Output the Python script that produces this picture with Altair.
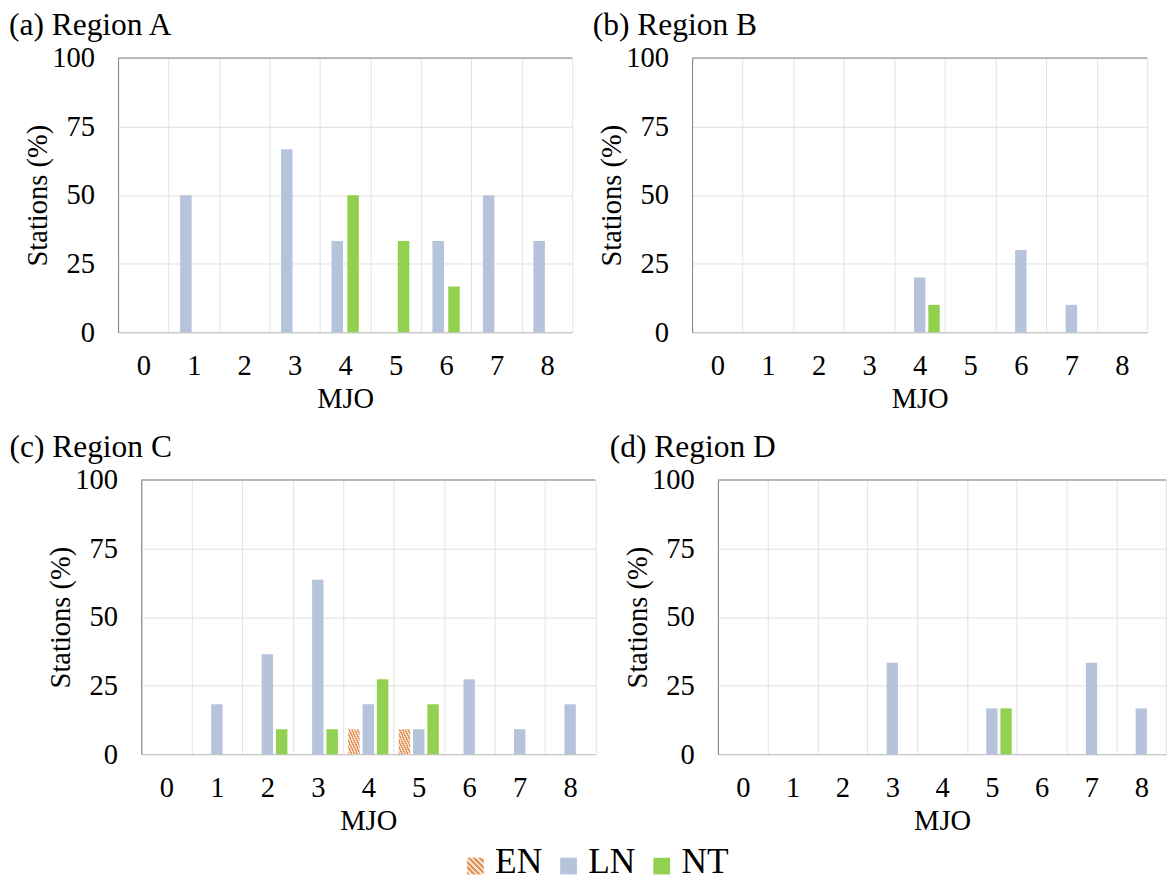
import altair as alt
import pandas as pd

FONT = "Liberation Serif"

# ---- data -------------------------------------------------------------
mjo = ["0", "1", "2", "3", "4", "5", "6", "7", "8"]
series = ["EN", "LN", "NT"]

a_LN = [0, 50, 0, 66.7, 33.3, 0, 33.3, 50, 33.3]
a_NT = [0, 0, 0, 0, 50, 33.3, 16.7, 0, 0]

b_EN = [0, 0, 0, 0, 0, 0, 0, 0, 0]
b_LN = [0, 0, 0, 0, 20, 0, 30, 10, 0]
b_NT = [0, 0, 0, 0, 10, 0, 0, 0, 0]

c_EN = [0, 0, 0, 0, 9.1, 9.1, 0, 0, 0]
c_LN = [0, 18.2, 36.4, 63.6, 18.2, 9.1, 27.3, 9.1, 18.2]
c_NT = [0, 0, 9.1, 9.1, 27.3, 18.2, 0, 0, 0]

d_EN = [0, 0, 0, 0, 0, 0, 0, 0, 0]
d_LN = [0, 0, 0, 33.3, 0, 16.7, 0, 33.3, 16.7]
d_NT = [0, 0, 0, 0, 0, 16.7, 0, 0, 0]

titles = ["(a) Region A", "(b) Region B", "(c) Region C", "(d) Region D"]
y_ticks = [0, 25, 50, 75, 100]


# ---- styles -----------------------------------------------------------
def stripes(c1, c2, n):
    stops = []
    for i in range(n):
        a, b, c = i / n, (i + 0.5) / n, (i + 1) / n
        stops += [
            alt.GradientStop(color=c1, offset=a),
            alt.GradientStop(color=c1, offset=b),
            alt.GradientStop(color=c2, offset=b),
            alt.GradientStop(color=c2, offset=c),
        ]
    return alt.LinearGradient(gradient="linear", stops=stops, x1=0, y1=1, x2=1, y2=0)


FILL = {
    "EN": stripes("#e0955a", "#f8e2cf", 8),
    "LN": "#b5c4db",
    "NT": "#92d050",
}
LEG_FILL = {
    "EN": stripes("#e0955a", "#f8e2cf", 6),
    "LN": "#b5c4db",
    "NT": "#92d050",
}

H = 279
TICK_FS = 29
AXT_FS = 29
TITLE_FS = 32
LEG_FS = 36


def panel(title, vals, off_domain, pad_in, pad_out, width, shift, title_x, title_y, sp_y):
    rows = []
    for s, v in vals.items():
        for m, val in zip(mjo, v):
            rows.append({"MJO": m, "Series": s, "Value": val})
    df = pd.DataFrame(rows)

    base = alt.Chart(df).encode(
        x=alt.X(
            "MJO:N",
            sort=mjo,
            scale=alt.Scale(domain=mjo, paddingInner=0, paddingOuter=0, range=[shift, shift + width]),
            axis=alt.Axis(
                title="MJO",
                grid=True,
                tickBand="extent",
                gridColor="#e2e2e2",
                gridWidth=1,
                ticks=False,
                tickSize=0,
                domainColor="#bfbfbf",
                labelAngle=0,
                labelFont=FONT,
                labelFontSize=TICK_FS,
                labelColor="black",
                labelPadding=34,
                labelBaseline="middle",
                titleFont=FONT,
                titleFontSize=AXT_FS,
                titleFontWeight="normal",
                titleColor="black",
                titleX=shift + width / 2,
                titleY=68,
                titleAlign="center",
                titleBaseline="middle",
            ),
        ),
        xOffset=alt.XOffset(
            "Series:N",
            sort=off_domain,
            scale=alt.Scale(domain=off_domain, paddingInner=pad_in, paddingOuter=pad_out),
        ),
        y=alt.Y(
            "Value:Q",
            scale=alt.Scale(domain=[0, 100]),
            axis=alt.Axis(
                title="Stations (%)",
                values=y_ticks,
                offset=-shift,
                grid=True,
                gridColor="#dedede",
                ticks=False,
                tickSize=0,
                domainColor="#7f7f7f",
                labelFont=FONT,
                labelFontSize=TICK_FS,
                labelColor="black",
                labelPadding=24,
                titleFont=FONT,
                titleFontSize=AXT_FS,
                titleFontWeight="normal",
                titleColor="black",
                titleX=-82,
                titleY=H / 2,
                titleAngle=-90,
                titleAlign="center",
                titleBaseline="middle",
            ),
        ),
    )

    layers = []
    for s in vals:
        layers.append(
            base.transform_filter((alt.datum.Series == s) & (alt.datum.Value > 0)).mark_bar(
                color=FILL[s], strokeWidth=0
            )
        )

    one = pd.DataFrame({"k": [0]})
    top = alt.Chart(one).mark_rule(color="#7f7f7f", strokeWidth=1).encode(
        y=alt.datum(100), x=alt.value(shift), x2=alt.value(shift + width)
    )
    ttl = alt.Chart(pd.DataFrame({"t": [title]})).mark_text(
        align="left", baseline="alphabetic", font=FONT, fontSize=TITLE_FS, color="black"
    ).encode(x=alt.value(shift + title_x), y=alt.value(title_y), text="t:N")
    out = [*layers, top, ttl]
    if sp_y is not None:
        # invisible spacer that sets the layout bounds of the panel
        out.append(
            alt.Chart(one).mark_rule(opacity=0, strokeOpacity=0).encode(
                x=alt.value(shift + 20), y=alt.value(sp_y), y2=alt.value(sp_y + 1)
            )
        )
    return (
        alt.layer(*out)
        .resolve_scale(xOffset="shared")
        .properties(width=shift + width, height=H)
    )


pA = panel(titles[0], {"LN": a_LN, "NT": a_NT}, ["LN", "NT"], 0.273, 0.73, 462, 0, -111, -23.3, -26)
pB = panel(titles[1], {"EN": b_EN, "LN": b_LN, "NT": b_NT}, series, 0.205, 0.36, 463, 0, -101, -23.3, -26)
pC = panel(titles[2], {"EN": c_EN, "LN": c_LN, "NT": c_NT}, series, 0.205, 0.36, 462, 23.5, -134, -23.5, -57.1)
pD = panel(titles[3], {"EN": d_EN, "LN": d_LN, "NT": d_NT}, series, 0.205, 0.36, 456, 26.3, -110, -23.5, -57.1)

grid = alt.concat(pA, pB, pC, pD, columns=2, spacing={"row": 9.2, "column": -3.1}).resolve_scale(
    x="independent", y="independent", xOffset="independent"
)

# ---- legend -----------------------------------------------------------
leg_df = pd.DataFrame({"s": series})
leg_x = alt.X(
    "s:N", sort=series,
    scale=alt.Scale(type="point", domain=series, range=[363.5, 553], padding=0),
    axis=None,
)
leg_layers = []
for s in series:
    leg_layers.append(
        alt.Chart(leg_df).transform_filter(alt.datum.s == s).mark_square(
            size=289, color=LEG_FILL[s], opacity=1, filled=True
        ).encode(x=leg_x, y=alt.value(15))
    )
leg_text = alt.Chart(leg_df).mark_text(
    align="left", baseline="middle", dx=20, font=FONT, fontSize=LEG_FS, color="black"
).encode(x=leg_x, y=alt.value(11), text="s:N")
legend = alt.layer(*leg_layers, leg_text).properties(width=640, height=30)

chart = (
    alt.vconcat(grid, legend, spacing=8)
    .resolve_scale(x="independent", y="independent", xOffset="independent")
    .properties(padding={"left": 1, "top": -6.7, "right": 0, "bottom": -2})
    .configure_view(stroke=None)
)

chart.save("out.html", embed_options={"renderer": "svg", "actions": False})
